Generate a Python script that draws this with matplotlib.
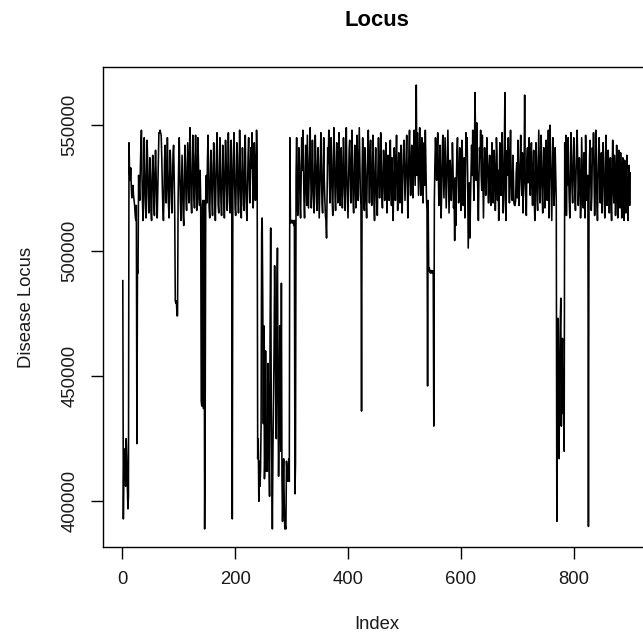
import numpy as np
import matplotlib
matplotlib.use("Agg")
import matplotlib.pyplot as plt

plt.rcParams['font.family'] = ['Liberation Sans', 'DejaVu Sans']

# Disease locus values (in thousands), index 1..900
seg_001_100 = [
    488, 393, 421, 420, 416, 406, 425, 418, 407, 397,
    402, 543, 531, 528, 533, 526, 521, 524, 526, 522,
    520, 518, 514, 512, 518, 423, 492, 491, 530, 526,
    520, 532, 541, 548, 530, 518, 512, 525, 545, 532,
    519, 513, 528, 544, 536, 522, 515, 524, 537, 530,
    516, 512, 527, 538, 533, 520, 514, 530, 540, 531,
    519, 513, 524, 535, 547, 547, 548, 547, 546, 538,
    526, 517, 512, 522, 536, 542, 530, 519, 528, 545,
    532, 518, 513, 529, 540, 534, 521, 515, 526, 538,
    542, 530, 515, 480, 479, 480, 474, 474, 520, 535,
]
seg_101_200 = [
    545, 531, 520, 512, 526, 538, 527, 514, 510, 528,
    542, 535, 521, 516, 530, 543, 532, 519, 537, 549,
    533, 520, 515, 529, 546, 538, 522, 517, 534, 546,
    530, 516, 527, 545, 536, 521, 518, 532, 520, 440,
    438, 518, 520, 437, 520, 389, 437, 523, 530, 519,
    536, 546, 530, 517, 513, 527, 540, 534, 520, 514,
    529, 543, 536, 522, 512, 525, 539, 547, 531, 518,
    515, 528, 545, 533, 519, 514, 526, 542, 536, 521,
    513, 530, 544, 537, 524, 516, 531, 547, 535, 520,
    515, 529, 544, 530, 393, 522, 536, 547, 530, 517,
]
seg_201_300 = [
    514, 528, 543, 538, 522, 515, 527, 548, 533, 519,
    513, 530, 541, 534, 518, 516, 532, 546, 528, 517,
    512, 526, 538, 545, 530, 519, 528, 541, 533, 547,
    531, 517, 525, 543, 535, 520, 529, 548, 538, 417,
    425, 400, 416, 406, 412, 430, 507, 513, 480, 431,
    470, 409, 420, 460, 412, 430, 412, 455, 444, 420,
    402, 470, 509, 440, 415, 389, 420, 439, 460, 494,
    470, 440, 425, 480, 501, 445, 410, 430, 470, 450,
    420, 487, 410, 392, 405, 417, 400, 389, 390, 389,
    416, 412, 408, 410, 417, 408, 545, 512, 511, 512,
]
seg_301_400 = [
    512, 511, 512, 510, 512, 403, 415, 530, 545, 522,
    514, 528, 541, 535, 519, 513, 530, 545, 532, 548,
    536, 520, 513, 526, 542, 534, 518, 546, 531, 517,
    528, 540, 549, 530, 517, 524, 544, 533, 521, 515,
    531, 546, 536, 522, 516, 533, 541, 527, 513, 525,
    538, 547, 530, 519, 515, 532, 545, 528, 520, 514,
    512, 505, 522, 541, 535, 548, 530, 519, 527, 545,
    536, 520, 514, 531, 549, 538, 522, 516, 530, 543,
    534, 519, 525, 547, 532, 518, 528, 541, 530, 517,
    527, 545, 536, 522, 516, 533, 549, 530, 521, 513,
]
seg_401_500 = [
    526, 540, 544, 531, 519, 527, 548, 533, 520, 515,
    530, 542, 528, 517, 534, 546, 531, 520, 535, 549,
    536, 522, 518, 436, 531, 545, 534, 521, 516, 541,
    532, 520, 513, 529, 540, 548, 531, 519, 537, 544,
    528, 518, 524, 546, 535, 520, 512, 530, 541, 527,
    518, 514, 532, 545, 534, 521, 530, 547, 536, 522,
    517, 529, 540, 533, 520, 527, 543, 530, 515, 524,
    538, 531, 520, 534, 544, 529, 518, 537, 523, 512,
    527, 541, 533, 520, 535, 546, 530, 516, 529, 539,
    527, 519, 533, 542, 525, 515, 529, 538, 544, 531,
]
seg_501_600 = [
    520, 528, 537, 546, 530, 513, 524, 540, 548, 532,
    522, 535, 542, 529, 521, 533, 548, 537, 526, 545,
    566, 530, 547, 535, 522, 536, 549, 531, 522, 540,
    545, 528, 519, 534, 543, 526, 548, 535, 521, 516,
    446, 520, 492, 493, 492, 491, 492, 492, 491, 492,
    491, 430, 520, 535, 545, 538, 528, 540, 547, 531,
    518, 526, 542, 530, 513, 524, 539, 546, 533, 521,
    534, 545, 532, 517, 528, 540, 548, 530, 515, 525,
    536, 530, 520, 527, 543, 534, 517, 522, 504, 529,
    510, 527, 540, 545, 531, 519, 524, 541, 533, 516,
]
seg_601_700 = [
    528, 544, 535, 518, 530, 537, 513, 526, 547, 539,
    545, 530, 501, 514, 527, 505, 520, 532, 542, 530,
    548, 534, 520, 536, 563, 547, 528, 551, 533, 524,
    512, 529, 541, 537, 548, 530, 524, 546, 530, 513,
    526, 541, 534, 522, 530, 545, 536, 527, 519, 533,
    538, 525, 518, 530, 543, 535, 519, 527, 540, 531,
    516, 524, 545, 538, 520, 532, 512, 527, 543, 530,
    522, 536, 547, 531, 515, 524, 541, 563, 520, 512,
    533, 540, 530, 545, 531, 519, 536, 548, 527, 521,
    520, 538, 531, 519, 518, 518, 520, 531, 535, 521,
]
seg_701_800 = [
    544, 533, 518, 526, 536, 546, 530, 522, 539, 515,
    525, 532, 562, 528, 520, 514, 536, 541, 527, 535,
    545, 532, 522, 537, 543, 526, 518, 532, 540, 521,
    512, 525, 543, 536, 520, 516, 531, 548, 533, 519,
    527, 546, 539, 522, 515, 530, 541, 536, 517, 524,
    544, 531, 520, 527, 548, 513, 535, 550, 537, 522,
    512, 530, 545, 534, 518, 526, 541, 530, 520, 392,
    450, 473, 440, 417, 455, 470, 481, 430, 450, 465,
    435, 440, 420, 543, 520, 546, 514, 535, 526, 545,
    530, 520, 513, 531, 547, 538, 524, 519, 533, 545,
]
seg_801_900 = [
    536, 522, 516, 530, 541, 548, 535, 518, 526, 537,
    529, 513, 520, 545, 534, 521, 517, 539, 528, 513,
    546, 534, 520, 527, 530, 390, 520, 538, 544, 530,
    516, 522, 541, 535, 547, 528, 514, 526, 548, 536,
    520, 512, 528, 540, 545, 530, 519, 532, 539, 515,
    528, 543, 535, 521, 513, 527, 546, 534, 518, 524,
    540, 532, 515, 529, 537, 520, 512, 531, 544, 526,
    519, 538, 531, 514, 526, 542, 527, 513, 535, 540,
    524, 517, 539, 530, 513, 526, 537, 520, 512, 536,
    529, 515, 531, 538, 520, 512, 527, 534, 518, 531,
]

x_ticks = [0, 200, 400, 600, 800]
y_ticks = [400000, 450000, 500000, 550000]
y_tick_labels = ["400000", "450000", "500000", "550000"]

locus = np.array(seg_001_100 + seg_101_200 + seg_201_300 + seg_301_400 +
                 seg_401_500 + seg_501_600 + seg_601_700 + seg_701_800 +
                 seg_801_900, dtype=float) * 1000.0
index = np.arange(1, len(locus) + 1)

W, H = 643, 638
fig = plt.figure(figsize=(W / 100, H / 100), dpi=100)
left, right, top, bottom = 102.5, 650.5, 67.3, 546.7
ax = fig.add_axes([left / W, 1 - bottom / H, (right - left) / W, (bottom - top) / H])

ax.plot(index, locus, color='black', linewidth=1.15)

n = len(locus)
xr = n - 1
ax.set_xlim(1 - 0.04 * xr, n + 0.04 * xr)
ymin, ymax = locus.min(), locus.max()
yr = ymax - ymin
ax.set_ylim(ymin - 0.04 * yr, ymax + 0.04 * yr)

ax.set_xticks(x_ticks)
ax.set_xticklabels([str(t) for t in x_ticks])
ax.set_yticks(y_ticks)
ax.set_yticklabels(y_tick_labels, rotation=90, va='center')

ax.tick_params(axis='both', direction='out', length=8.5, width=1.0,
               labelsize=13.3, color='black', labelcolor='#1a1a1a')
ax.tick_params(axis='x', pad=9)
ax.tick_params(axis='y', pad=9)
for s in ax.spines.values():
    s.set_linewidth(1.0)
    s.set_color('black')

ax.set_xlabel("Index", fontsize=13.3, color='#1a1a1a')
ax.set_ylabel("Disease Locus", fontsize=13.3, color='#1a1a1a')
ah = bottom - top
ax.xaxis.set_label_coords(0.5, -78 / ah)
ax.yaxis.set_label_coords(-76 / (right - left), 0.5)
ax.xaxis.label.set_va('center')
ax.yaxis.label.set_va('center')

ax.text(0.5, 1 + 47 / ah, "Locus", transform=ax.transAxes, ha='center',
        va='center', fontsize=15.8, fontweight='bold', color='black')

fig.savefig("out.png", dpi=100)
